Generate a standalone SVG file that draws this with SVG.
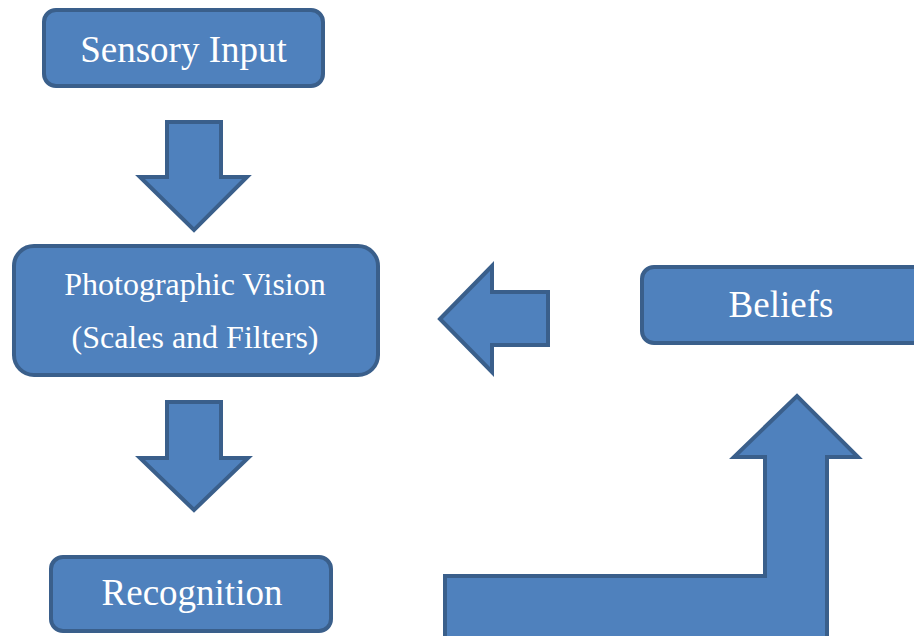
<svg xmlns="http://www.w3.org/2000/svg" width="914" height="636" viewBox="0 0 914 636">
<style>
.box{fill:#4F81BD;stroke:#3A5F8B;stroke-width:4}
.arr{fill:#4F81BD;stroke:#3A5F8B;stroke-width:4;stroke-linejoin:miter}
.t{fill:#FFFFFF;text-anchor:middle;font-family:"Liberation Serif","Times New Roman",serif}
</style>
<rect width="914" height="636" fill="#FFFFFF"/>
<g id="sensory-input">
<rect class="box" x="44" y="10" width="279" height="76" rx="12"/>
<text class="t" x="183.5" y="62" font-size="37">Sensory Input</text>
</g>
<g id="photographic-vision">
<rect class="box" x="14" y="246" width="364" height="129" rx="20"/>
<text class="t" x="195" y="295" font-size="32">Photographic Vision</text>
<text class="t" x="195" y="348" font-size="32">(Scales and Filters)</text>
</g>
<g id="beliefs">
<rect class="box" x="642" y="267" width="290" height="76" rx="12"/>
<text class="t" x="781" y="317" font-size="37">Beliefs</text>
</g>
<g id="recognition">
<rect class="box" x="51" y="557" width="280" height="74" rx="12"/>
<text class="t" x="192" y="605" font-size="37">Recognition</text>
</g>
<g id="connectors">
<path class="arr" d="M167 122 L221 122 L221 177 L247 177 L194 230 L140 177 L167 177 Z"/>
<path class="arr" d="M167 402 L221 402 L221 458 L248 458 L194 510 L140 458 L167 458 Z"/>
<path class="arr" d="M440 319 L492 266 L492 292 L548 292 L548 345 L492 345 L492 372 Z"/>
<path class="arr" d="M445 642 L445 576 L765 576 L765 457 L734 457 L797 396 L858 457 L827 457 L827 642 Z"/>
</g>
</svg>
